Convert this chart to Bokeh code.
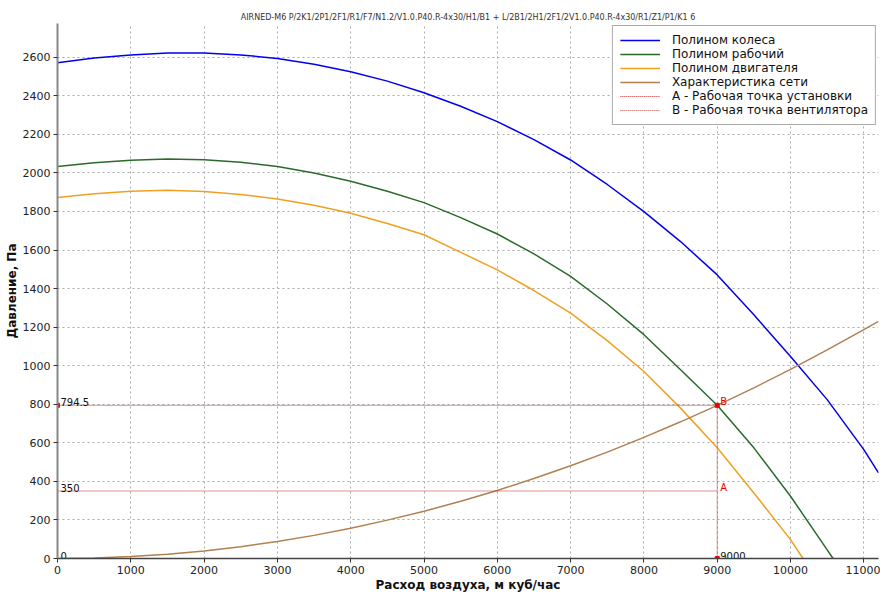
from bokeh.plotting import figure
from bokeh.models import Range1d, SingleIntervalTicker, ColumnDataSource
from bokeh.core.properties import value
from bokeh.embed import file_html
from bokeh.resources import INLINE

FONT = "DejaVu Sans"

subtitle = "AIRNED-M6 P/2K1/2P1/2F1/R1/F7/N1.2/V1.0.P40.R-4x30/H1/B1 + L/2B1/2H1/2F1/2V1.0.P40.R-4x30/R1/Z1/P1/K1 6"
x_label = "Расход воздуха, м куб/час"
y_label = "Давление, Па"

# Полином колеса
wheel_x = [0, 500, 1000, 1500, 2000, 2500, 3000, 3500, 4000, 4500, 5000, 5500, 6000, 6500,
           7000, 7500, 8000, 8500, 9000, 9500, 10000, 10500, 11000, 11200]
wheel_p = [2572, 2596, 2612, 2622, 2622, 2612, 2594, 2564, 2525, 2476, 2416, 2346, 2266, 2173,
           2067, 1940, 1799, 1644, 1471, 1264, 1048, 824, 565, 444]

# Полином рабочий
work_x = [0, 500, 1000, 1500, 2000, 2500, 3000, 3500, 4000, 4500, 5000, 5500, 6000, 6500,
          7000, 7500, 8000, 8500, 9000, 9500, 10000, 10500, 10580]
work_p = [2033, 2053, 2066, 2072, 2068, 2055, 2033, 2000, 1957, 1905, 1846, 1768, 1683, 1580,
          1463, 1320, 1161, 979, 794.5, 574, 323, 45, 0]

# Полином двигателя
motor_x = [0, 500, 1000, 1500, 2000, 2500, 3000, 3500, 4000, 4500, 5000, 5500, 6000, 6500,
           7000, 7500, 8000, 8500, 9000, 9500, 10000, 10170]
motor_p = [1872, 1892, 1905, 1910, 1903, 1888, 1865, 1832, 1791, 1738, 1679, 1588, 1497, 1390,
           1273, 1130, 970, 780, 574, 340, 98, 0]

# Характеристика сети
net_x = [0, 500, 1000, 1500, 2000, 2500, 3000, 3500, 4000, 4500, 5000, 5500, 6000, 6500,
         7000, 7500, 8000, 8500, 9000, 9500, 10000, 10500, 11000, 11200]
net_p = [0, 2, 10, 22, 39, 61, 88, 120, 157, 199, 245, 297, 353, 415,
         481, 552, 628, 709, 794.5, 885, 981, 1082, 1187, 1230]

# Рабочие точки
flow_point = 9000
install_p = 350      # A
fan_p = 794.5        # B

names = ["Полином колеса", "Полином рабочий", "Полином двигателя", "Характеристика сети",
         "A - Рабочая точка установки", "B - Рабочая точка вентилятора"]

p = figure(width=880, height=594, output_backend="svg", toolbar_location=None,
           x_range=Range1d(0, 11200), y_range=Range1d(0, 2775),
           min_border_left=57, min_border_right=2, min_border_top=23, min_border_bottom=35,
           background_fill_color="white", border_fill_color="white")
p.outline_line_color = None

p.title.text = subtitle
p.title.align = "center"
p.title.text_font = FONT
p.title.text_font_size = "8px"
p.title.text_font_style = "normal"
p.title.text_color = "#333333"
p.title.standoff = 4

p.xaxis.ticker = SingleIntervalTicker(interval=1000, num_minor_ticks=0)
p.yaxis.ticker = SingleIntervalTicker(interval=200, num_minor_ticks=0)
p.xaxis.axis_label = x_label
p.yaxis.axis_label = y_label
for ax in (p.xaxis, p.yaxis):
    ax.axis_label_text_font = FONT
    ax.axis_label_text_font_style = "bold"
    ax.axis_label_text_font_size = "12px"
    ax.axis_label_text_color = "#111111"
    ax.axis_label_standoff = 1
    ax.major_label_text_font = FONT
    ax.major_label_text_font_size = "11px"
    ax.major_label_text_color = "#222222"
    ax.major_label_standoff = 3
    ax.major_tick_out = 4
    ax.major_tick_in = 0
    ax.minor_tick_out = 0
    ax.major_tick_line_color = "#333333"
p.yaxis.axis_line_color = "#888888"
p.yaxis.axis_line_width = 2
p.xaxis.axis_line_color = "#444444"
p.xaxis.axis_line_width = 1.5
p.grid.grid_line_color = "#aaaaaa"
p.grid.grid_line_dash = "2 3"
p.grid.grid_line_width = 1

colors = ["#0000ee", "#2a6a2a", "#f0a020", "#b08050", "#cc2222", "#c05050"]

p.line(wheel_x, wheel_p, line_color=colors[0], line_width=1.5, legend_label=names[0])
p.line(work_x, work_p, line_color=colors[1], line_width=1.5, legend_label=names[1])
p.line(motor_x, motor_p, line_color=colors[2], line_width=1.5, legend_label=names[2])
p.line(net_x, net_p, line_color=colors[3], line_width=1.5, legend_label=names[3])

p.line([0, flow_point], [install_p, install_p], line_color=colors[4], line_width=1.2,
       line_dash="1 1", legend_label=names[4])
p.line([0, flow_point, flow_point], [fan_p, fan_p, 0], line_color=colors[5], line_width=1.2,
       line_dash="1 1", legend_label=names[5])

p.scatter([0, flow_point, flow_point], [fan_p, fan_p, 0], marker="square", size=4,
          color="#ee0000")

lab_src = ColumnDataSource(dict(x=[0, 0, 0, flow_point],
                                y=[fan_p, install_p, 0, 0],
                                t=["794.5", "350", "0", "9000"]))
p.text(x="x", y="y", text="t", source=lab_src, x_offset=3, y_offset=1,
       text_font=value(FONT), text_font_size="10px", text_color="#111111",
       text_baseline="bottom", text_align="left")
pt_src = ColumnDataSource(dict(x=[flow_point, flow_point], y=[install_p, fan_p], t=["A", "B"]))
p.text(x="x", y="y", text="t", source=pt_src, x_offset=3, y_offset=2,
       text_font=value(FONT), text_font_size="10px", text_color="#ee0000",
       text_baseline="bottom", text_align="left")

lg = p.legend[0]
lg.location = "top_right"
lg.margin = 2
lg.padding = 7
lg.spacing = 0
lg.label_height = 12
lg.glyph_height = 12
lg.glyph_width = 40
lg.label_standoff = 12
lg.label_text_font = FONT
lg.label_text_font_size = "12px"
lg.label_text_color = "#111111"
lg.border_line_color = "#555555"
lg.border_line_width = 1
lg.background_fill_alpha = 1

open("out.html", "w").write(file_html(p, INLINE))
